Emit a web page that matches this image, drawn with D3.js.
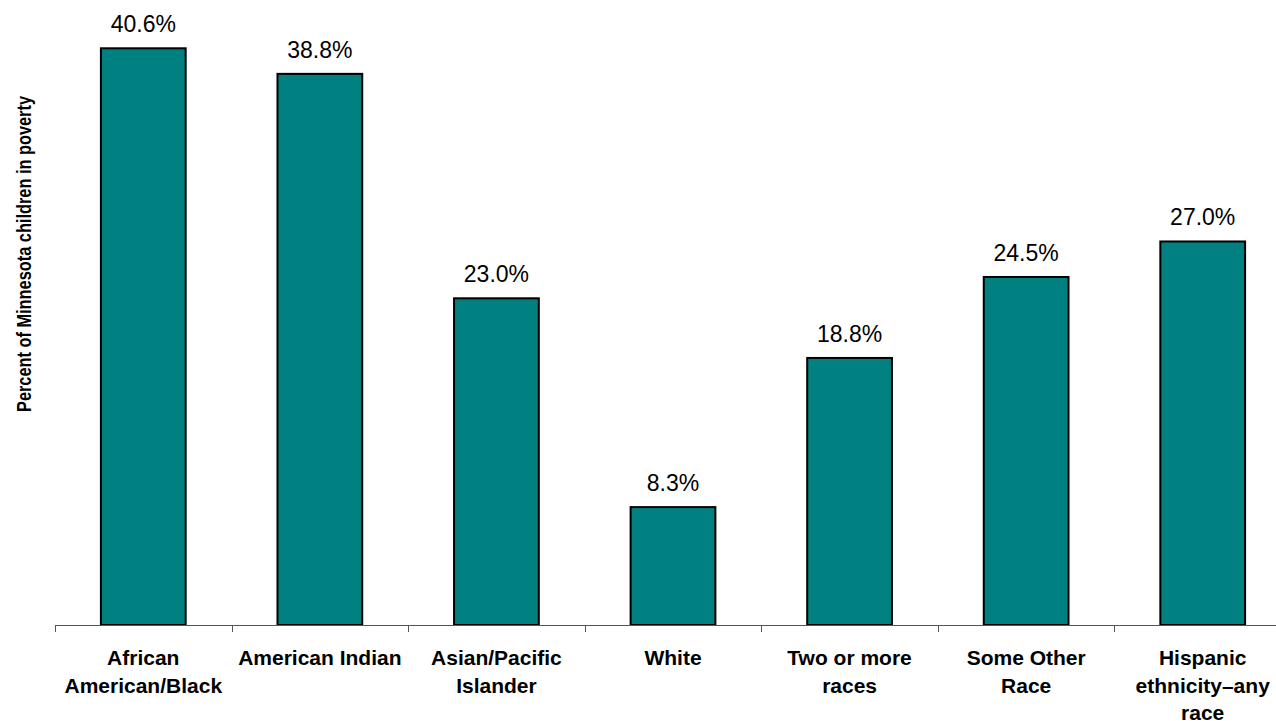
<!DOCTYPE html>
<html>
<head>
<meta charset="utf-8">
<script src="https://cdn.jsdelivr.net/npm/d3@7/dist/d3.min.js"></script>
<style>
  html, body { margin: 0; padding: 0; background: #fff; overflow: hidden; }
  svg { display: block; font-family: Arial, "Liberation Sans", sans-serif; }
</style>
</head>
<body>
<svg id="chart" width="1276" height="721"></svg>
<script>
const categories = ["African American/Black", "American Indian", "Asian/Pacific Islander", "White", "Two or more races", "Some Other Race", "Hispanic ethnicity–any race"];
const categoryLines = [
  ["African", "American/Black"],
  ["American Indian"],
  ["Asian/Pacific", "Islander"],
  ["White"],
  ["Two or more", "races"],
  ["Some Other", "Race"],
  ["Hispanic", "ethnicity–any", "race"]
];
const values = [40.6, 38.8, 23.0, 8.3, 18.8, 24.5, 27.0];
const valueLabels = ["40.6%", "38.8%", "23.0%", "8.3%", "18.8%", "24.5%", "27.0%"];
const yTitle = "Percent of Minnesota children in poverty";

const svg = d3.select("#chart");
const baseY = 625;
const x = d3.scaleBand().domain(categories).range([55, 1291]).paddingInner(0.52).paddingOuter(0.26);
const y = d3.scaleLinear().domain([0, 44]).range([baseY, 0]);

// bars
svg.append("g").selectAll("rect").data(categories).join("rect")
  .attr("x", d => x(d))
  .attr("y", (d, i) => y(values[i]))
  .attr("width", x.bandwidth())
  .attr("height", (d, i) => y(0) - y(values[i]))
  .attr("fill", "#008080")
  .attr("stroke", "#000")
  .attr("stroke-width", 2);

// value labels
svg.append("g").selectAll("text").data(categories).join("text")
  .attr("x", d => x(d) + x.bandwidth() / 2)
  .attr("y", (d, i) => y(values[i]) - 16)
  .attr("text-anchor", "middle")
  .attr("font-size", 23)
  .attr("fill", "#000")
  .text((d, i) => valueLabels[i]);

// x axis line and boundary ticks
const step = x.step();
const boundaries = d3.range(categories.length + 1).map(i => x.range()[0] + i * step);
const axis = svg.append("g");
axis.append("line")
  .attr("x1", x.range()[0]).attr("x2", x.range()[1])
  .attr("y1", baseY + 0.5).attr("y2", baseY + 0.5)
  .attr("stroke", "#555").attr("stroke-width", 1);
axis.selectAll("line.tick").data(boundaries).join("line")
  .attr("class", "tick")
  .attr("x1", d => Math.round(d) + 0.5).attr("x2", d => Math.round(d) + 0.5)
  .attr("y1", baseY).attr("y2", baseY + 7)
  .attr("stroke", "#555").attr("stroke-width", 1);

// category labels
const catG = svg.append("g").selectAll("text").data(categories).join("text")
  .attr("x", d => x(d) + x.bandwidth() / 2)
  .attr("y", 665)
  .attr("text-anchor", "middle")
  .attr("font-size", 21)
  .attr("font-weight", "bold")
  .attr("fill", "#000");
catG.each(function(d, i) {
  const t = d3.select(this);
  const cx = x(d) + x.bandwidth() / 2;
  categoryLines[i].forEach((line, j) => {
    t.append("tspan").attr("x", cx).attr("dy", j === 0 ? 0 : 27.5).text(line);
  });
});

// y title
svg.append("text")
  .attr("transform", "translate(31,254) rotate(-90)")
  .attr("text-anchor", "middle")
  .attr("font-size", 20)
  .attr("font-weight", "bold")
  .attr("fill", "#000")
  .attr("textLength", 316)
  .attr("lengthAdjust", "spacingAndGlyphs")
  .text(yTitle);
</script>
</body>
</html>
